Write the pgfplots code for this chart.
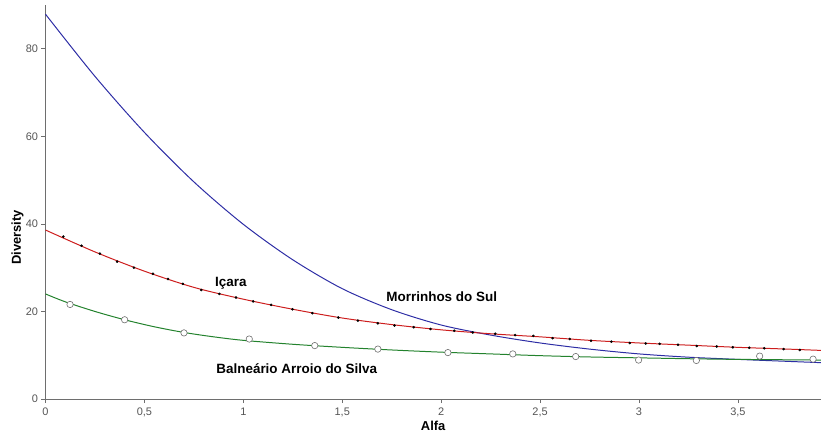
\documentclass[border=0pt]{standalone}
\usepackage{fontspec}
\setmainfont{Liberation Sans}
\usepackage{pgfplots}
\pgfplotsset{compat=1.18}
\definecolor{cred}{RGB}{205,30,30}
\definecolor{cblue}{RGB}{45,45,165}
\definecolor{cgreen}{RGB}{35,130,45}
\definecolor{axgray}{RGB}{110,110,110}
\definecolor{tickgray}{RGB}{85,85,85}
\begin{document}
\begin{tikzpicture}
\useasboundingbox (-45.5bp,-36bp) rectangle (775.5bp,399bp);
\begin{axis}[
  scale only axis,
  width=775.5bp, height=394bp,
  xmin=0, xmax=3.92, ymin=0, ymax=90,
  axis x line*=bottom, axis y line*=left,
  axis line style={axgray, line width=0.8pt},
  xtick={0,0.5,1,1.5,2,2.5,3,3.5},
  ytick={0,20,40,60,80},
  tick align=outside,
  major tick length=4bp,
  tick style={axgray, line width=0.6pt},
  /pgf/number format/assume math mode=true,
  /pgf/number format/use comma,
  ticklabel style={font=\fontsize{11}{13}\selectfont, text=tickgray},
  xticklabel style={yshift=-1bp},
  xlabel={\textbf{Alfa}},
  ylabel={\textbf{Diversity}},
  label style={font=\fontsize{13}{15}\selectfont},
  xlabel style={at={(axis description cs:0.5,0)}, anchor=center, yshift=-27bp},
  ylabel style={at={(axis description cs:0,0.41)}, anchor=center, yshift=28bp},
  clip=false,
]
% Morrinhos do Sul
\addplot[cblue, line width=1pt, smooth, no marks] coordinates {
(0,87.9) (0.25,73.7) (0.5,60.9) (0.75,49.6) (1.0,39.9) (1.25,31.8)
(1.5,25.2) (1.75,20.4) (2.0,16.9) (2.25,14.6) (2.5,12.8) (2.75,11.4)
(3.0,10.3) (3.25,9.55) (3.5,9.05) (3.75,8.6) (3.92,8.3)
};
% Balneario Arroio do Silva (fit)
\addplot[cgreen, line width=1pt, smooth, no marks] coordinates {
(0,24.0) (0.1,22.2) (0.25,20.0) (0.4,18.1) (0.55,16.5) (0.7,15.2) (0.85,14.2)
(1.0,13.4) (1.25,12.5) (1.5,11.8) (1.75,11.2) (2.0,10.7) (2.25,10.3)
(2.5,9.9) (2.75,9.6) (3.0,9.4) (3.25,9.2) (3.5,9.05) (3.92,8.9)
};
\addplot[only marks, mark=*, mark size=3.2bp, mark options={fill=white, draw=axgray, line width=0.6pt}] coordinates {
(0.124,21.6) (0.40,18.1) (0.70,15.1) (1.03,13.7) (1.361,12.2) (1.68,11.4)
(2.034,10.6) (2.362,10.3) (2.68,9.7) (2.998,8.9) (3.29,8.8) (3.61,9.8) (3.88,9.1)
};
% Icara
\addplot[cred, line width=1pt, smooth, no marks] coordinates {
(0,38.6) (0.25,33.6) (0.5,29.2) (0.75,25.5) (1.0,22.8) (1.25,20.5) (1.5,18.5)
(1.75,17.0) (2.0,15.8) (2.25,14.9) (2.5,14.2) (2.75,13.4) (3.0,12.8)
(3.25,12.3) (3.5,11.8) (3.75,11.4) (3.92,11.1)
};
\addplot[only marks, mark=*, mark size=1.1bp, black] coordinates {
(0.09,37.1) (0.182,35.0) (0.275,33.2) (0.362,31.4) (0.447,30.0) (0.543,28.6)
(0.619,27.4) (0.694,26.3) (0.787,24.9) (0.879,24.0) (0.963,23.2) (1.05,22.3)
(1.14,21.5) (1.248,20.5) (1.349,19.6) (1.48,18.6) (1.579,17.9) (1.68,17.3)
(1.764,16.8) (1.861,16.4) (1.946,16.0) (2.066,15.6) (2.16,15.2) (2.273,14.9)
(2.374,14.6) (2.466,14.4) (2.563,13.9) (2.65,13.7) (2.757,13.3) (2.86,13.1)
(2.953,12.8) (3.034,12.7) (3.104,12.6) (3.197,12.4) (3.292,12.1) (3.393,12.0)
(3.474,11.8) (3.557,11.7) (3.633,11.6) (3.731,11.4) (3.813,11.2)
};
\node[font=\fontsize{13.5}{15}\selectfont\bfseries] at (axis cs:0.937,26.5) {Içara};
\node[font=\fontsize{13.5}{15}\selectfont\bfseries] at (axis cs:2.003,23.3) {Morrinhos do Sul};
\node[font=\fontsize{13.5}{15}\selectfont\bfseries] at (axis cs:1.27,7.0) {Balneário Arroio do Silva};
\end{axis}
\end{tikzpicture}
\end{document}
